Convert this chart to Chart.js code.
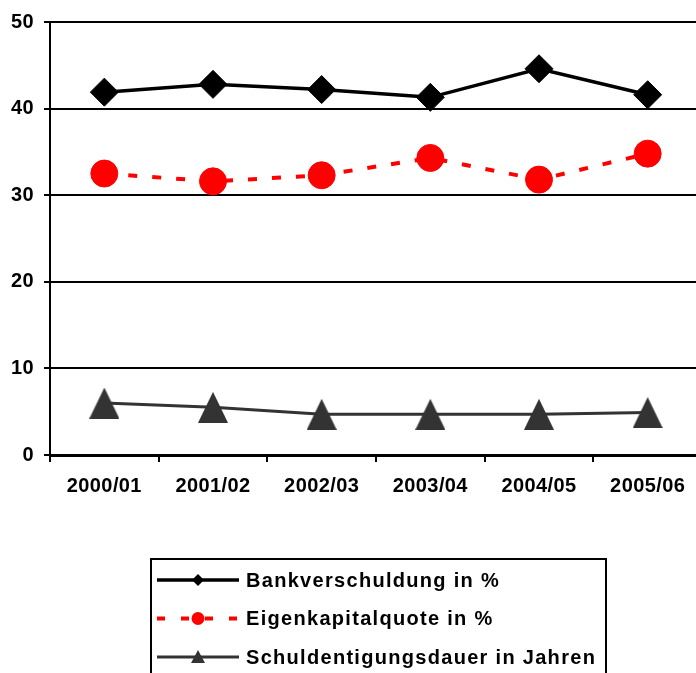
<!DOCTYPE html>
<html>
<head>
<meta charset="utf-8">
<script src="https://cdn.jsdelivr.net/npm/chart.js@4"></script>
<style>
html, body { margin: 0; padding: 0; background: #fff; overflow: hidden; }
#wrap { width: 720px; height: 700px; }
</style>
</head>
<body>
<div id="wrap"><canvas id="chart" width="720" height="700"></canvas></div>
<script>
// Daten
const jahre = ['2000/01', '2001/02', '2002/03', '2003/04', '2004/05', '2005/06'];
const bankverschuldung = [41.9, 42.8, 42.2, 41.3, 44.6, 41.6];
const eigenkapitalquote = [32.5, 31.6, 32.3, 34.3, 31.8, 34.8];
const schuldentilgung = [6.0, 5.5, 4.7, 4.7, 4.7, 4.9];
const yMin = 0, yMax = 50, yStep = 10;

const labelFont = { family: 'Liberation Sans, Arial, sans-serif', size: 20, weight: 'bold' };

// Dreieck wie in Excel: Bounding-Box um den Punkt zentriert
function makeTriangle(w, h, color) {
    const c = document.createElement('canvas');
    c.width = w; c.height = h;
    const g = c.getContext('2d');
    g.fillStyle = color;
    g.beginPath();
    g.moveTo(w / 2, 0);
    g.lineTo(w, h);
    g.lineTo(0, h);
    g.closePath();
    g.fill();
    return c;
}
const triBig = makeTriangle(30, 31, '#333333');

// etwas breitere Schrift wie im Original
const spacing = {
    id: 'spacing',
    beforeLayout(chart) { chart.ctx.letterSpacing = '0.4px'; },
    beforeDraw(chart) { chart.ctx.letterSpacing = '0.4px'; }
};

// Legende im Kasten unter dem Diagramm
const boxLegend = {
    id: 'boxLegend',
    afterDraw(chart) {
        const ctx = chart.ctx;
        ctx.save();
        ctx.setLineDash([]);
        ctx.strokeStyle = '#000';
        ctx.lineWidth = 2;
        ctx.strokeRect(151, 559, 455, 130);
        chart.data.datasets.forEach((ds, i) => {
            const y = 580 + i * 38.5;
            ctx.strokeStyle = ds.borderColor;
            ctx.lineWidth = ds.borderWidth;
            ctx.setLineDash(ds.borderDash ? [8, 16] : []);
            ctx.beginPath();
            ctx.moveTo(157, y);
            ctx.lineTo(239, y);
            ctx.stroke();
            ctx.setLineDash([]);
            ctx.fillStyle = ds.pointBackgroundColor;
            ctx.beginPath();
            if (ds.pointStyle === 'rectRot') {
                ctx.moveTo(198 - 6, y); ctx.lineTo(198, y - 6);
                ctx.lineTo(198 + 6, y); ctx.lineTo(198, y + 6);
            } else if (ds.pointStyle === 'circle') {
                ctx.arc(198, y, 6.5, 0, Math.PI * 2);
            } else {
                ctx.moveTo(198, y - 7); ctx.lineTo(205, y + 6); ctx.lineTo(191, y + 6);
            }
            ctx.closePath();
            ctx.fill();
            ctx.letterSpacing = '1.3px';
            ctx.fillStyle = '#000';
            ctx.font = 'bold 20px "Liberation Sans", Arial, sans-serif';
            ctx.textAlign = 'left';
            ctx.textBaseline = 'middle';
            ctx.fillText(ds.label, 246, y + 1);
        });
        ctx.restore();
    }
};

new Chart(document.getElementById('chart'), {
    type: 'line',
    data: {
        labels: jahre,
        datasets: [{
            label: 'Bankverschuldung in %',
            data: bankverschuldung,
            borderColor: '#000000',
            borderWidth: 3.5,
            pointStyle: 'rectRot',
            pointRadius: 14,
            pointBackgroundColor: '#000000',
            pointBorderColor: '#000000',
            pointBorderWidth: 1,
            tension: 0
        }, {
            label: 'Eigenkapitalquote in %',
            data: eigenkapitalquote,
            borderColor: '#ff0000',
            borderWidth: 4,
            borderDash: [9, 15],
            pointStyle: 'circle',
            pointRadius: 13.5,
            pointBackgroundColor: '#ff0000',
            pointBorderColor: '#ff0000',
            pointBorderWidth: 1,
            tension: 0
        }, {
            label: 'Schuldentigungsdauer in Jahren',
            data: schuldentilgung,
            borderColor: '#333333',
            borderWidth: 3,
            pointStyle: triBig,
            pointRadius: 15,
            pointBackgroundColor: '#333333',
            pointBorderColor: '#333333',
            tension: 0
        }]
    },
    options: {
        responsive: false,
        animation: false,
        devicePixelRatio: 1,
        layout: { padding: { top: 19, right: 15, bottom: 185, left: 0 } },
        plugins: {
            legend: { display: false },
            tooltip: { enabled: false }
        },
        scales: {
            x: {
                offset: true,
                grid: { offset: true, drawOnChartArea: false, drawTicks: true, tickLength: 7, color: '#000', lineWidth: 2 },
                border: { color: '#000', width: 3 },
                ticks: { color: '#000', font: labelFont, padding: 12, maxRotation: 0, autoSkip: false },
                afterFit(scale) { scale.height = 60; }
            },
            y: {
                min: yMin,
                max: yMax,
                ticks: { stepSize: yStep, color: '#000', font: labelFont, padding: 10 },
                grid: { color: '#000', lineWidth: 2, tickLength: 6, drawTicks: true },
                border: { color: '#000', width: 2 },
                afterFit(scale) { scale.width = 50; }
            }
        }
    },
    plugins: [spacing, boxLegend]
});
</script>
</body>
</html>
